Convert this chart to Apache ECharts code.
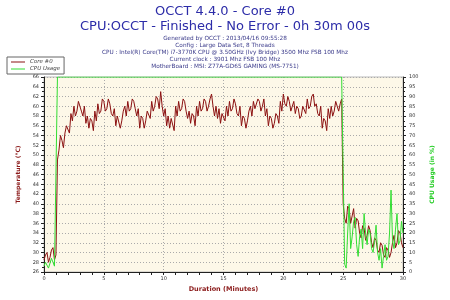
<!DOCTYPE html>
<html>
<head>
<meta charset="utf-8">
<script src="https://cdn.jsdelivr.net/npm/echarts@6/dist/echarts.min.js"></script>
<style>
html,body{margin:0;padding:0;background:#fff;}
#main{width:450px;height:300px;}
</style>
</head>
<body>
<div id="main"></div>
<script>
// 采样间隔 (分钟)
var stepMin = 0.125;

// Core #0 温度 (°C)
var coreTemp = [
	28.5, 29.5, 30, 28, 29, 30.5, 31, 28.5, 29.5, 49, 51, 54, 53, 51.5, 54.5, 56, 56, 54.5, 58.5, 57,
	60, 58, 59, 61, 61, 59, 58, 60, 56.5, 58, 55.5, 57.5, 57, 55, 59, 57, 60.5, 58.5, 59, 61.5,
	61, 59, 59.5, 61.5, 60.5, 58.5, 58, 59.5, 56, 58, 58, 55.5, 57, 59, 60, 58, 61, 59, 59.5, 61.5,
	61, 59.5, 58, 59.5, 55.5, 58, 57.5, 55.5, 57, 59, 59, 57.5, 61, 59, 60, 62, 61.5, 59.5, 63, 60,
	58, 59.5, 56, 58, 55.5, 57.5, 57.5, 55, 60, 58, 61, 59, 59.5, 61.5, 61, 59, 57.5, 59, 56.5, 58.5,
	58, 56, 60, 58, 61, 59, 59.5, 61.5, 61, 59, 60, 61.5, 62.5, 60, 58, 60, 57.5, 59.5, 56.5, 58.5,
	58.5, 57, 60, 58, 61, 59, 59.5, 61.5, 60.5, 58.5, 58, 60, 56, 58, 57.5, 55.5, 57, 59, 60, 58,
	61, 59.5, 59.5, 61.5, 61, 59, 60, 61.5, 58, 59.5, 56, 58, 57.5, 55.5, 56.5, 58.5, 58, 56.5, 61, 59,
	62.5, 60.5, 60, 62, 61, 59, 59, 61, 58.5, 60, 59.5, 57.5, 58, 60, 60, 58.5, 61.5, 59.5, 60, 62,
	62.5, 60, 60.5, 58.5, 58, 60, 55.5, 57.5, 57, 55, 59.5, 57.5, 60, 58, 59, 61, 61, 59, 60.5, 61.5,
	40, 37, 36, 39.5, 39, 36, 37.5, 39, 35, 37, 36.5, 34, 33, 35.5, 35, 32.5, 33.5, 35.5, 34.5, 32,
	31, 33, 32.5, 30.5, 30, 32, 31.5, 29.5, 29, 31, 30.5, 29, 30, 32, 33.5, 31, 32, 34.5, 34, 32,
	31
];

// CPU 使用率 (%)
var cpuUsage = [
	3, 5, 6, 2, 2, 7, 5, 3, 4, 100,
	100, 100, 100, 100, 100, 100, 100, 100, 100, 100,
	100, 100, 100, 100, 100, 100, 100, 100, 100, 100,
	100, 100, 100, 100, 100, 100, 100, 100, 100, 100,
	100, 100, 100, 100, 100, 100, 100, 100, 100, 100,
	100, 100, 100, 100, 100, 100, 100, 100, 100, 100,
	100, 100, 100, 100, 100, 100, 100, 100, 100, 100,
	100, 100, 100, 100, 100, 100, 100, 100, 100, 100,
	100, 100, 100, 100, 100, 100, 100, 100, 100, 100,
	100, 100, 100, 100, 100, 100, 100, 100, 100, 100,
	100, 100, 100, 100, 100, 100, 100, 100, 100, 100,
	100, 100, 100, 100, 100, 100, 100, 100, 100, 100,
	100, 100, 100, 100, 100, 100, 100, 100, 100, 100,
	100, 100, 100, 100, 100, 100, 100, 100, 100, 100,
	100, 100, 100, 100, 100, 100, 100, 100, 100, 100,
	100, 100, 100, 100, 100, 100, 100, 100, 100, 100,
	100, 100, 100, 100, 100, 100, 100, 100, 100, 100,
	100, 100, 100, 100, 100, 100, 100, 100, 100, 100,
	100, 100, 100, 100, 100, 100, 100, 100, 100, 100,
	100, 100, 100, 100, 100, 100, 100, 100, 100, 100,
	100, 4, 2, 20, 35, 12, 18, 26, 28, 14,
	8, 18, 22, 12, 30, 20, 14, 22, 20, 12,
	10, 16, 24, 10, 6, 12, 2, 8, 14, 6,
	8, 20, 42, 16, 12, 22, 30, 14, 16, 26,
	20
];

var infoLines = [
	'Generated by OCCT : 2013/04/16 09:55:28',
	'Config : Large Data Set, 8 Threads',
	'CPU : Intel(R) Core(TM) i7-3770K CPU @ 3.50GHz (Ivy Bridge) 3500 Mhz FSB 100 Mhz',
	'Current clock : 3901 Mhz FSB 100 Mhz',
	'MotherBoard : MSI: Z77A-GD65 GAMING (MS-7751)'
];

function toPairs(arr){
	var out = [];
	for (var i = 0; i < arr.length; i++) {
		out.push([i * stepMin, arr[i]]);
	}
	return out;
}

var font = 'DejaVu Sans';

var titles = [
	{
		text: 'OCCT 4.4.0 - Core #0',
		left: 'center',
		top: 5,
		padding: 0,
		textStyle: { color: '#2c2ca8', fontSize: 13, fontWeight: 'normal', fontFamily: font }
	},
	{
		text: 'CPU:OCCT - Finished - No Error - 0h 30m 00s',
		left: 'center',
		top: 20,
		padding: 0,
		textStyle: { color: '#2c2ca8', fontSize: 13, fontWeight: 'normal', fontFamily: font }
	}
];
for (var k = 0; k < infoLines.length; k++) {
	titles.push({
		text: infoLines[k],
		left: 'center',
		top: 35 + k * 7,
		padding: 0,
		textStyle: { color: '#3a3a8a', fontSize: 5.75, fontWeight: 'normal', fontFamily: font }
	});
}

var myChar = echarts.init(document.getElementById('main'));
var option = {
	backgroundColor: '#ffffff',
	animation: false,
	title: titles,
	legend: {
		orient: 'vertical',
		left: 7,
		top: 57,
		padding: [2, 4, 2, 4],
		itemGap: 1,
		itemWidth: 14,
		itemHeight: 1,
		borderColor: '#666',
		borderWidth: 1,
		backgroundColor: '#fff',
		icon: 'rect',
		textStyle: { fontSize: 5.5, fontStyle: 'italic', color: '#444', fontFamily: font },
		data: ['Core #0', 'CPU Usage']
	},
	grid: {
		left: 44,
		right: 47,
		top: 77,
		bottom: 28,
		show: true,
		backgroundColor: '#fdf8e8',
		borderColor: '#bbb',
		borderWidth: 1
	},
	xAxis: {
		type: 'value',
		min: 0,
		max: 30,
		interval: 5,
		name: 'Duration (Minutes)',
		nameLocation: 'middle',
		nameGap: 13,
		nameTextStyle: { color: '#8b1a1a', fontSize: 6.5, fontWeight: 'bold', fontFamily: font },
		axisLine: { lineStyle: { color: '#222' } },
		axisTick: { length: 3, lineStyle: { color: '#222' } },
		minorTick: { show: true, splitNumber: 5, length: 3, lineStyle: { color: '#222' } },
		axisLabel: { fontSize: 5, color: '#333', margin: 4, fontFamily: font },
		splitLine: { show: true, lineStyle: { color: '#aaa', type: [1, 2] } }
	},
	yAxis: [
		{
			type: 'value',
			min: 26,
			max: 66,
			interval: 2,
			name: 'Temperature (°C)',
			nameLocation: 'middle',
			nameRotate: 90,
			nameGap: 15,
			nameTextStyle: { color: '#8b1a1a', fontSize: 6, fontWeight: 'bold', fontFamily: font },
			axisLine: { show: true, lineStyle: { color: '#222' } },
			axisTick: { show: true, length: 3, lineStyle: { color: '#222' } },
			minorTick: { show: true, splitNumber: 2, length: 2, lineStyle: { color: '#222' } },
			axisLabel: { fontSize: 5, color: '#333', margin: 5, fontFamily: font },
			splitLine: { show: true, lineStyle: { color: '#aaa', type: [1, 2] } }
		},
		{
			type: 'value',
			min: 0,
			max: 100,
			interval: 5,
			position: 'right',
			name: 'CPU Usage (in %)',
			nameLocation: 'middle',
			nameRotate: 90,
			nameGap: 20,
			nameTextStyle: { color: '#22cc22', fontSize: 6, fontWeight: 'bold', fontFamily: font },
			axisLine: { show: true, lineStyle: { color: '#222' } },
			axisTick: { show: true, length: 3, lineStyle: { color: '#222' } },
			minorTick: { show: true, splitNumber: 2, length: 2, lineStyle: { color: '#222' } },
			axisLabel: { fontSize: 5, color: '#333', margin: 6, fontFamily: font },
			splitLine: { show: false }
		}
	],
	series: [
		{
			name: 'Core #0',
			type: 'line',
			yAxisIndex: 0,
			showSymbol: false,
			color: '#8b1010',
			lineStyle: { width: 1, color: '#8b1010' },
			data: toPairs(coreTemp)
		},
		{
			name: 'CPU Usage',
			type: 'line',
			yAxisIndex: 1,
			showSymbol: false,
			color: '#33dd33',
			lineStyle: { width: 1, color: '#33dd33' },
			data: toPairs(cpuUsage)
		}
	]
};
myChar.setOption(option);
</script>
</body>
</html>
